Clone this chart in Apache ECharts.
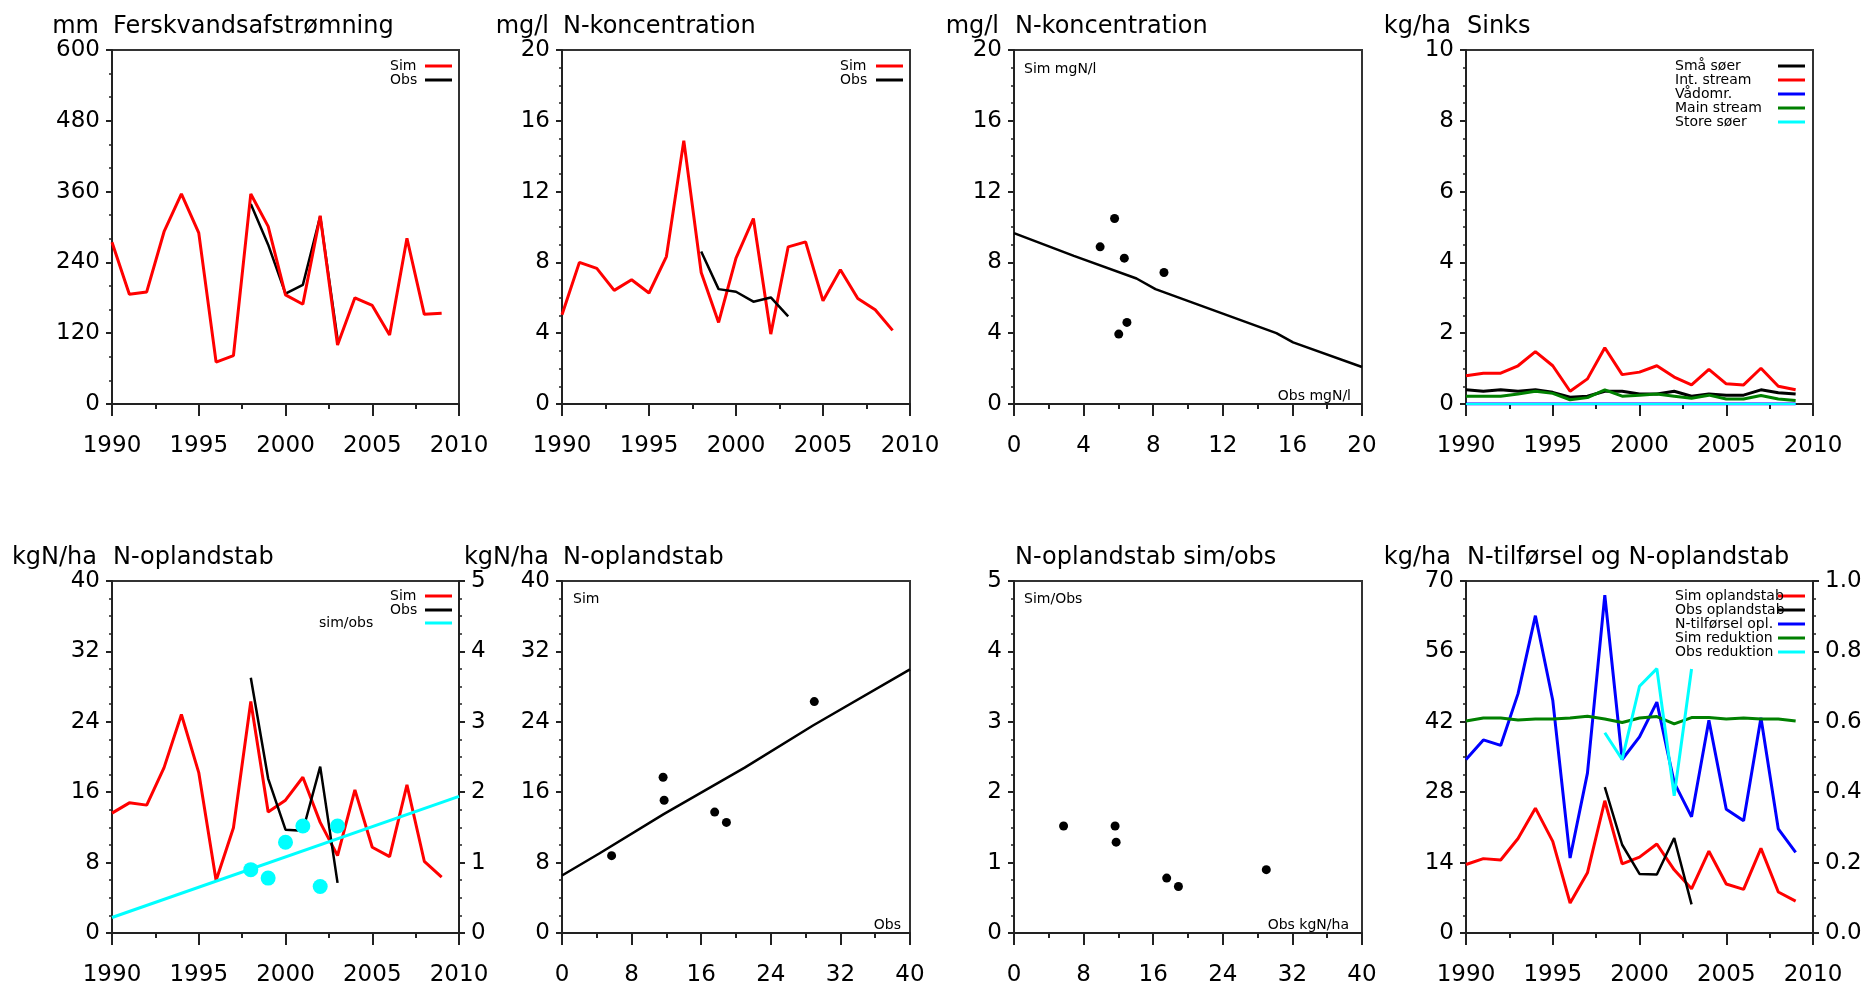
<!DOCTYPE html>
<html><head><meta charset="utf-8">
<script src="https://cdn.jsdelivr.net/npm/echarts@6/dist/echarts.min.js"></script>
<style>html,body{margin:0;padding:0;background:#fff}#c{width:1866px;height:987px}</style>
</head><body><div id="c"></div>
<script>
// ---------------- data ----------------
const years = [1990,1991,1992,1993,1994,1995,1996,1997,1998,1999,2000,2001,2002,2003,2004,2005,2006,2007,2008,2009];
const obsYears = [1998,1999,2000,2001,2002,2003];

// Ferskvandsafstrømning (mm)
const runoffSim = [274,186,190,292,356,290,71,82,356,301,185,169,319,100,180,167,117,281,152,154];
const runoffObs = [339,270,187,202,318,110];

// N-koncentration (mg/l)
const concSim = [5.04,8.0,7.66,6.42,7.02,6.27,8.33,14.88,7.43,4.61,8.24,10.48,3.95,8.88,9.16,5.83,7.58,5.96,5.32,4.16];
const concObs = [8.62,6.49,6.34,5.78,6.02,4.95];
const concSimAtObs = [7.43,4.61,8.24,10.48,3.95,8.88];
const concTrendX = [0,3.44,7.04,8.13,15.08,16.04,20];
const concTrendY = [9.65,8.37,7.09,6.49,4.0,3.48,2.09];

// Sinks (kg/ha)
const sinkSmaa  = [0.40,0.36,0.40,0.36,0.40,0.33,0.19,0.22,0.36,0.36,0.28,0.28,0.36,0.22,0.28,0.25,0.25,0.40,0.32,0.28];
const sinkInt   = [0.80,0.87,0.87,1.08,1.48,1.08,0.36,0.71,1.59,0.83,0.90,1.08,0.76,0.54,0.98,0.57,0.54,1.01,0.50,0.40];
const sinkVaad  = [0,0,0,0,0,0,0,0,0,0,0,0,0,0,0,0,0,0,0,0];
const sinkMain  = [0.22,0.22,0.22,0.28,0.36,0.30,0.12,0.18,0.40,0.22,0.25,0.28,0.22,0.16,0.25,0.14,0.14,0.24,0.14,0.10];
const sinkStore = [0,0,0,0,0,0,0,0,0,0,0,0,0,0,0,0,0,0,0,0];

// N-oplandstab (kgN/ha)
const lossSim = [13.62,14.79,14.53,18.79,24.83,18.23,5.96,11.96,26.3,13.74,15.09,17.7,12.57,8.79,16.26,9.74,8.68,16.83,8.15,6.34];
const lossObs = [29.0,17.55,11.74,11.62,18.9,5.7];
const lossSimAtObs = [26.3,13.74,15.09,17.7,12.57,8.79];
const lossRatio = [0.90,0.78,1.29,1.52,0.66,1.52];
const ratioTrendYears = [1990,2010];
const ratioTrend = [0.22,1.94];
const lossTrendX = [0,4.33,11.69,21.0,28.85,40];
const lossTrendY = [6.53,9.06,13.51,18.79,23.58,29.96];

// N-tilførsel og reduktion
const nInput = [34.5,38.4,37.3,47.6,63.1,46.3,14.9,31.8,67.2,34.5,39.0,45.9,29.9,23.1,42.3,24.6,22.3,42.8,20.7,16.05];
const redSim = [0.602,0.611,0.611,0.605,0.608,0.608,0.611,0.616,0.608,0.598,0.611,0.615,0.594,0.612,0.612,0.608,0.611,0.608,0.608,0.602];
const redObs = [0.569,0.493,0.701,0.751,0.390,0.750];

// ---------------- helpers ----------------
const FONT = 'DejaVu Sans';
const AX = '#222';
const zip = (a,b) => a.map((v,i)=>[v,b[i]]);

const gridPos = [
  {left:112, top:50, width:347, height:354},
  {left:562, top:50, width:348, height:354},
  {left:1014, top:50, width:348, height:354},
  {left:1466, top:50, width:347, height:354},
  {left:112, top:581, width:347, height:353},
  {left:562, top:581, width:348, height:353},
  {left:1014, top:581, width:348, height:353},
  {left:1466, top:581, width:347, height:353}
];
const grids = gridPos.map(g => Object.assign({show:true, borderColor:'#333', borderWidth:2, backgroundColor:'transparent'}, g));

function xAx(i, min, max, interval){
  return {type:'value', gridIndex:i, min, max, interval,
    axisLine:{show:true, onZero:false, lineStyle:{color:AX, width:2}},
    axisTick:{show:true, length:12, lineStyle:{color:AX, width:2}},
    minorTick:{show:true, splitNumber:2, length:5, lineStyle:{color:AX, width:2}},
    splitLine:{show:false}, minorSplitLine:{show:false},
    axisLabel:{fontSize:23, fontFamily:FONT, color:'#000', margin:31, formatter:v=>String(v)}
  };
}
function yAx(i, min, max, interval, minorSplit, pos, dec){
  return {type:'value', gridIndex:i, min, max, interval, position:pos||'left',
    axisLine:{show:true, onZero:false, lineStyle:{color:AX, width:2}},
    axisTick:{show:true, length:6, lineStyle:{color:AX, width:2}},
    minorTick:{show:true, splitNumber:minorSplit, length:3, lineStyle:{color:AX, width:1.5}},
    splitLine:{show:false}, minorSplitLine:{show:false},
    axisLabel:{fontSize:23, fontFamily:FONT, color:'#000', margin:12,
      formatter: v => dec ? v.toFixed(dec) : String(v)}
  };
}
function line(name, xi, yi, data, color, width){
  return {type:'line', name, xAxisIndex:xi, yAxisIndex:yi, data, showSymbol:false, symbol:'none',
    itemStyle:{color}, lineStyle:{color, width}, animation:false, z:3};
}
function scatter(name, xi, yi, data, color, size){
  return {type:'scatter', name, xAxisIndex:xi, yAxisIndex:yi, data, symbolSize:size,
    itemStyle:{color, opacity:1}, animation:false, z:4};
}
const LF = 14;
function legend(names, left, top, w){
  return {data:names, orient:'vertical', left, top, align:'right', padding:0, itemGap:0,
    itemWidth:27, itemHeight:3, icon:'rect', selectedMode:false,
    itemStyle:{borderWidth:0}, lineStyle:{width:0},
    formatter:'{t|{name}}',
    textStyle:{fontSize:LF, fontFamily:FONT, color:'#000',
      rich:{t:{width:w, align:'left', fontSize:LF, lineHeight:14, fontFamily:FONT, color:'#000'}}}
  };
}
function txt(s, x, y, size, align){
  return {type:'text', x, y, z:10, silent:true,
    style:{text:s, font:size+'px "'+FONT+'"', fill:'#000', align:align||'left', verticalAlign:'middle'}};
}

const xAxes = [
  xAx(0,1990,2010,5), xAx(1,1990,2010,5), xAx(2,0,20,4), xAx(3,1990,2010,5),
  xAx(4,1990,2010,5), xAx(5,0,40,8), xAx(6,0,40,8), xAx(7,1990,2010,5)
];
const yAxes = [
  yAx(0,0,600,120,3), yAx(1,0,20,4,4), yAx(2,0,20,4,4), yAx(3,0,10,2,4),
  yAx(4,0,40,8,4), yAx(5,0,40,8,4), yAx(6,0,5,1,4), yAx(7,0,70,14,4),
  yAx(4,0,5,1,4,'right'), yAx(7,0,1,0.2,4,'right',1)
];

const series = [
  // panel 1
  line('Obs',0,0,zip(obsYears,runoffObs),'#000',2.5),
  line('Sim',0,0,zip(years,runoffSim),'#ff0000',3),
  // panel 2
  line('Sim',1,1,zip(years,concSim),'#ff0000',3),
  line('Obs',1,1,zip(obsYears,concObs),'#000',2.5),
  // panel 3
  line('trend',2,2,zip(concTrendX,concTrendY),'#000',2.5),
  scatter('punkter',2,2,zip(concObs,concSimAtObs),'#000',9),
  // panel 4
  line('Små søer',3,3,zip(years,sinkSmaa),'#000',3),
  line('Int. stream',3,3,zip(years,sinkInt),'#ff0000',3),
  line('Vådomr.',3,3,zip(years,sinkVaad),'#0000ff',3),
  line('Main stream',3,3,zip(years,sinkMain),'#008000',3),
  line('Store søer',3,3,zip(years,sinkStore),'#00ffff',2),
  // panel 5
  line('Sim',4,4,zip(years,lossSim),'#ff0000',3),
  line('Obs',4,4,zip(obsYears,lossObs),'#000',2.5),
  line('sim/obs',4,8,zip(ratioTrendYears,ratioTrend),'#00ffff',3),
  scatter('sim/obs',4,8,zip(obsYears,lossRatio),'#00ffff',15),
  // panel 6
  line('trend2',5,5,zip(lossTrendX,lossTrendY),'#000',2.5),
  scatter('punkter2',5,5,zip(lossObs,lossSimAtObs),'#000',9),
  // panel 7
  scatter('punkter3',6,6,zip(lossObs,lossRatio),'#000',9),
  // panel 8
  line('Sim oplandstab',7,7,zip(years,lossSim),'#ff0000',3),
  line('Obs oplandstab',7,7,zip(obsYears,lossObs),'#000',2.5),
  line('N-tilførsel opl.',7,7,zip(years,nInput),'#0000ff',3),
  line('Sim reduktion',7,9,zip(years,redSim),'#008000',3),
  line('Obs reduktion',7,9,zip(obsYears,redObs),'#00ffff',3)
];

const legends = [
  legend(['Sim','Obs'],390,59,30),
  legend(['Sim','Obs'],840,59,31),
  legend(['Små søer','Int. stream','Vådomr.','Main stream','Store søer'],1675,59,98),
  legend(['Sim','Obs'],390,589,30),
  legend(['sim/obs'],319,616,101),
  legend(['Sim oplandstab','Obs oplandstab','N-tilførsel opl.','Sim reduktion','Obs reduktion'],1675,589,98)
];

const TS = 24;
const graphics = [
  txt('mm',99,27,TS,'right'), txt('Ferskvandsafstrømning',113,27,TS),
  txt('mg/l',549,27,TS,'right'), txt('N-koncentration',563,27,TS),
  txt('mg/l',999,27,TS,'right'), txt('N-koncentration',1015,27,TS),
  txt('kg/ha',1451,27,TS,'right'), txt('Sinks',1467,27,TS),
  txt('kgN/ha',97,558,TS,'right'), txt('N-oplandstab',113,558,TS),
  txt('kgN/ha',549,558,TS,'right'), txt('N-oplandstab',563,558,TS),
  txt('N-oplandstab sim/obs',1015,558,TS),
  txt('kg/ha',1451,558,TS,'right'), txt('N-tilførsel og N-oplandstab',1467,558,TS),
  txt('Sim mgN/l',1024,69,14), txt('Obs mgN/l',1351,396,14,'right'),
  txt('Sim',573,599,14), txt('Obs',901,925,14,'right'),
  txt('Sim/Obs',1024,599,14), txt('Obs kgN/ha',1349,925,14,'right')
];

const chart = echarts.init(document.getElementById('c'), null, {renderer:'canvas'});
chart.setOption({
  animation:false,
  backgroundColor:'#fff',
  textStyle:{fontFamily:FONT},
  grid:grids, xAxis:xAxes, yAxis:yAxes, series, legend:legends, graphic:graphics
});
</script></body></html>
